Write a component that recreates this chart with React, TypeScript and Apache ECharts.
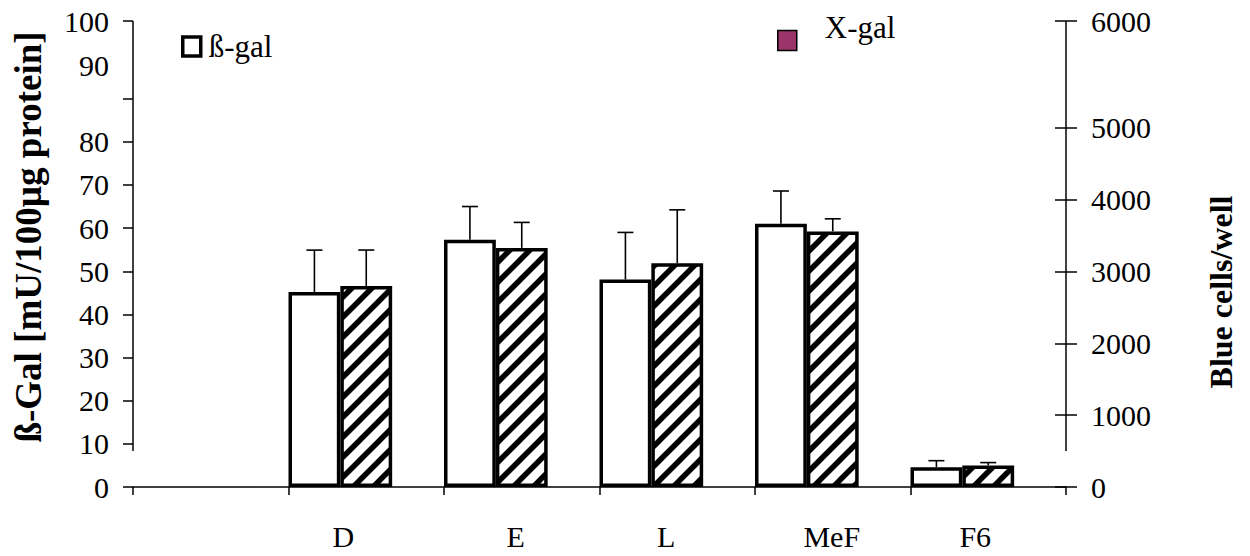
import React, { useEffect, useRef } from 'react';
import * as echarts from 'echarts';

// ---- data ----
const categories = ['', 'D', 'E', 'L', 'MeF', 'F6'];
const betaGal = [null, 45.2, 57.3, 48.1, 61.0, 4.6];
const betaGalErr = [null, 9.7, 7.7, 10.9, 7.6, 1.5];
const xGal = [null, 2800, 3330, 3115, 3560, 300];
const xGalErr = [null, 500, 355, 745, 175, 40];
const leftTickLabels = ['0', '10', '20', '30', '40', '50', '60', '70', '80', '90', '100'];
const rightTickLabels = ['0', '1000', '2000', '3000', '4000', '5000', '6000'];

// broken-top axes (as drawn in the original figure)
const LEFT_TOP = 108;
const RIGHT_TOP = 6490;
const leftLabelValues = [0, 10, 20, 30, 40, 50, 60, 70, 80, 97.6, LEFT_TOP];
const leftTickValues = [0, 10, 20, 30, 40, 50, 60, 70, 80, 90, LEFT_TOP];
const rightValues = [0, 1000, 2000, 3000, 4000, 5000, RIGHT_TOP];
// hand placement of the category labels in the original (px shift, left negative)
const labelShift = [0, -23, -6, -11, -1, -13];

const FONT = 'Liberation Serif, Times New Roman, serif';

function makeHatch(): HTMLCanvasElement {
  const c = document.createElement('canvas');
  c.width = 20;
  c.height = 20;
  const ctx = c.getContext('2d')!;
  ctx.fillStyle = '#fff';
  ctx.fillRect(0, 0, 20, 20);
  ctx.strokeStyle = '#000';
  ctx.lineWidth = 5.5;
  ctx.beginPath();
  for (const k of [0, 20, 40]) {
    ctx.moveTo(-10, k + 10);
    ctx.lineTo(k + 10, -10);
  }
  ctx.stroke();
  return c;
}

function errRenderer(slot: number) {
  return (_params: any, api: any) => {
    const i = api.value(0);
    const v = api.value(1);
    const e = api.value(2);
    const base = api.coord([i, v]);
    const top = api.coord([i, v + e]);
    const band = api.size([1, 0])[0];
    const x = base[0] - band / 2 + (band / 3) * (slot + 0.5);
    const st = { stroke: '#000', lineWidth: 1.6 };
    return {
      type: 'group',
      children: [
        { type: 'line', shape: { x1: x, y1: base[1], x2: x, y2: top[1] }, style: st },
        { type: 'line', shape: { x1: x - 8, y1: top[1], x2: x + 8, y2: top[1] }, style: st },
      ],
    };
  };
}

export default function App() {
  const ref = useRef<HTMLDivElement>(null);
  useEffect(() => {
    const chart = echarts.init(ref.current!, null, { renderer: 'svg' });
    const hatch = makeHatch();
    const labelStyle = { fontSize: 30, fontFamily: FONT, color: '#000' };
    const errData = (vals: any[], errs: any[]) =>
      vals.map((v, i) => (v == null ? null : [i, v, errs[i]])).filter((d) => d);
    const rich: Record<string, any> = {};
    labelShift.forEach((s, i) => {
      rich['c' + i] = {
        ...labelStyle,
        padding: s < 0 ? [0, -2 * s, 0, 0] : [0, 0, 0, 2 * s],
      };
    });

    chart.setOption({
      animation: false,
      backgroundColor: '#fff',
      grid: { left: 133, right: 184, top: 21, bottom: 69, containLabel: false },
      legend: [
        {
          data: [{ name: 'ß-gal', icon: 'rect', itemStyle: { color: '#fff', borderColor: '#000', borderWidth: 3.5 } }],
          left: 181, top: 31, padding: 0, itemWidth: 18, itemHeight: 19, selectedMode: false,
          textStyle: { fontSize: 31, fontFamily: FONT, color: '#000', padding: [0, 0, 0, 3] },
        },
        {
          data: [{ name: 'X-gal', icon: 'rect', itemStyle: { color: '#9b3468', borderColor: '#000', borderWidth: 1.5 } }],
          left: 777, top: 12, padding: 0, itemWidth: 19, itemHeight: 20, selectedMode: false,
          formatter: '{t|{name}}',
          textStyle: {
            fontSize: 31, fontFamily: FONT, color: '#000',
            rich: { t: { fontSize: 31, fontFamily: FONT, color: '#000', padding: [0, 0, 26, 23] } },
          },
        },
      ],
      xAxis: {
        type: 'category',
        data: categories,
        boundaryGap: true,
        axisLine: { show: true, lineStyle: { color: '#000', width: 1.5 } },
        axisTick: { show: true, length: 8, interval: 0, lineStyle: { color: '#000', width: 1.5 } },
        axisLabel: {
          ...labelStyle, margin: 34, interval: 0,
          formatter: (v: string, i: number) => (v ? `{c${i}|${v}}` : ''),
          rich,
        },
        splitLine: { show: false },
      },
      yAxis: [
        {
          type: 'value', min: 0, max: LEFT_TOP, position: 'left',
          axisLine: { show: false },
          axisTick: { show: true, length: 10, customValues: leftTickValues, lineStyle: { color: '#000', width: 1.5 } },
          axisLabel: {
            ...labelStyle, margin: 24, customValues: leftLabelValues,
            formatter: (v: number) => leftTickLabels[leftLabelValues.indexOf(v)] ?? '',
          },
          splitLine: { show: false },
          name: 'ß-Gal [mU/100µg protein]',
          nameLocation: 'middle', nameRotate: 90, nameGap: 86,
          nameTextStyle: { fontSize: 37, fontWeight: 'bold', fontFamily: FONT, color: '#000', padding: [0, 0, 0, 34] },
        },
        {
          type: 'value', min: 0, max: RIGHT_TOP, position: 'right', offset: 0,
          axisLine: { show: false },
          axisTick: { show: true, length: 11, customValues: rightValues, lineStyle: { color: '#000', width: 1.5 } },
          axisLabel: {
            ...labelStyle, margin: 25, customValues: rightValues,
            formatter: (v: number) => rightTickLabels[rightValues.indexOf(v)] ?? '',
          },
          splitLine: { show: false },
          name: 'Blue cells/well',
          nameLocation: 'middle', nameRotate: 90, nameGap: 139,
          nameTextStyle: { fontSize: 32, fontWeight: 'bold', fontFamily: FONT, color: '#000', padding: [0, 76, 0, 0] },
        },
        {
          type: 'value', min: 0, max: RIGHT_TOP, position: 'right', offset: 0,
          axisLine: { show: false },
          axisTick: { show: true, inside: true, length: 11, customValues: rightValues, lineStyle: { color: '#000', width: 1.5 } },
          axisLabel: { show: false },
          splitLine: { show: false },
        },
      ],
      graphic: [
        { type: 'line', shape: { x1: 133, y1: 21, x2: 133, y2: 451 }, style: { stroke: '#000', lineWidth: 1.5 }, silent: true },
        { type: 'line', shape: { x1: 1066, y1: 21, x2: 1066, y2: 451 }, style: { stroke: '#000', lineWidth: 1.5 }, silent: true },
      ],
      series: [
        {
          name: 'ß-gal', type: 'bar', yAxisIndex: 0, data: betaGal,
          barGap: '0%', barCategoryGap: '0%',
          itemStyle: { color: '#fff', borderColor: '#000', borderWidth: 3.5 },
        },
        {
          name: 'X-gal', type: 'bar', yAxisIndex: 1, data: xGal,
          barGap: '0%', barCategoryGap: '0%',
          itemStyle: { color: { image: hatch, repeat: 'repeat' }, borderColor: '#000', borderWidth: 3.5 },
        },
        {
          name: 'spacer', type: 'bar', yAxisIndex: 0, data: categories.map(() => null),
          barGap: '0%', barCategoryGap: '0%', itemStyle: { color: 'transparent' }, silent: true,
        },
        {
          name: 'ß-gal err', type: 'custom', yAxisIndex: 0, renderItem: errRenderer(0),
          data: errData(betaGal, betaGalErr), encode: { x: 0, y: 1 }, clip: false, silent: true, z: 5,
        },
        {
          name: 'X-gal err', type: 'custom', yAxisIndex: 1, renderItem: errRenderer(1),
          data: errData(xGal, xGalErr), encode: { x: 0, y: 1 }, clip: false, silent: true, z: 5,
        },
      ],
    });
    return () => chart.dispose();
  }, []);
  return <div ref={ref} style={{ position: 'absolute', left: 0, top: 0, width: 1250, height: 556 }} />;
}
